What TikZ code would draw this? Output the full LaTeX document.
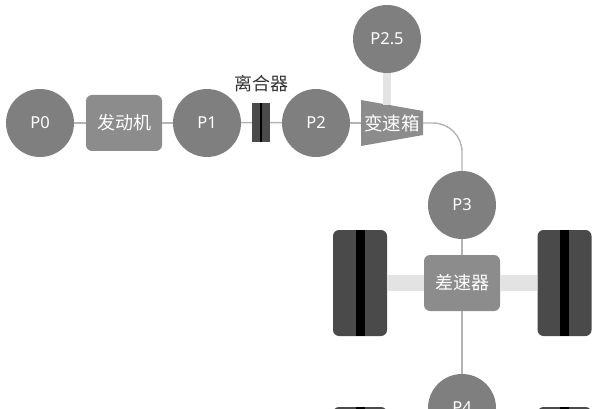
\documentclass[tikz,border=0pt]{standalone}
\usepackage{fontspec}
\setmainfont{Noto Sans}
\newfontfamily\cjk{Noto Sans CJK SC}
\definecolor{motorgray}{HTML}{7F7F7F}
\definecolor{boxgray}{HTML}{8C8C8C}
\definecolor{wheelgray}{HTML}{4A4A4A}
\definecolor{linkgray}{HTML}{B4B4B4}
\definecolor{axlegray}{HTML}{E3E3E3}
\tikzset{
  motor/.style={circle,fill=motorgray,text=white,minimum size=68pt,inner sep=0pt,font=\fontsize{16.5}{16.5}\selectfont},
  unitbox/.style={rectangle,rounded corners=6pt,fill=boxgray,text=white,minimum width=76pt,minimum height=56pt,inner sep=0pt,font=\fontsize{18}{18}\selectfont\cjk},
  wheel/.style={rectangle,rounded corners=6pt,fill=wheelgray,minimum width=54pt,minimum height=106pt,inner sep=0pt},
  tread/.style={rectangle,fill=black,minimum width=9pt,minimum height=106pt,inner sep=0pt},
  link/.style={draw=linkgray,line width=1.4pt},
  axle/.style={draw=axlegray,line width=16pt},
  shaft/.style={draw=axlegray,line width=8pt},
}
\begin{document}
\begin{tikzpicture}[x=1pt,y=-1pt]
  \useasboundingbox (0,0) rectangle (592,409);
  \clip (0,0) rectangle (592,409);
  % top row
  \node[motor] (p0) at (40,123) {P0};
  \node[unitbox] (engine) at (124,123) {发动机};
  \node[motor] (p1) at (207,123) {P1};
  \node[rectangle,fill=wheelgray,minimum width=18pt,minimum height=39pt,inner sep=0pt] (clutch) at (261,122.5) {};
  \node[rectangle,fill=black,minimum width=2pt,minimum height=39pt,inner sep=0pt] (clutchgap) at (261,122.5) {};
  \node[font=\fontsize{18}{18}\selectfont\cjk,text=black!80] (clutchlabel) at (261,84) {离合器};
  \node[motor] (p2) at (316,123) {P2};
  \node[motor] (p25) at (387,39) {P2.5};
  \fill[boxgray] (361,100) -- (423,111) -- (423,135) -- (361,146) -- cycle;
  \node[font=\fontsize{18.5}{18.5}\selectfont\cjk,text=white,minimum width=62pt,minimum height=24pt,inner sep=0pt] (gearbox) at (392,123) {变速箱};
  \coordinate (shafttop) at (387,105);
  % rear axle
  \node[motor] (p3) at (462,205) {P3};
  \node[unitbox] (diff) at (462,283) {差速器};
  \node[motor] (p4) at (462,408) {P4};
  \foreach \x/\name in {360/wl,564.5/wr} {
    \node[wheel] (\name) at (\x,283) {};
    \node[tread] (\name t) at (\x,283) {};
    \node[wheel] (\name b) at (\x,460) {};
    \node[tread] (\name bt) at (\x,460) {};
  }
  % links
  \draw[link] (p0) -- (engine);
  \draw[link] (engine) -- (p1);
  \draw[link] (p1) -- (clutch);
  \draw[link] (clutch) -- (p2);
  \draw[link] (p2) -- (gearbox);
  \draw[shaft] (p25) -- (shafttop);
  \draw[link,rounded corners=29pt] (gearbox.east) -| (p3.north);
  \draw[link] (p3) -- (diff);
  \draw[link] (diff) -- (p4);
  \draw[axle] (wl) -- (diff);
  \draw[axle] (diff) -- (wr);
\end{tikzpicture}
\end{document}
